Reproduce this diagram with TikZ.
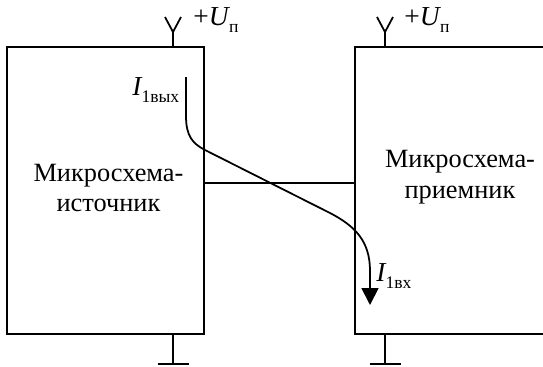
\documentclass[tikz,border=0pt]{standalone}
\usepackage{fontspec}
\setmainfont{Liberation Serif}
\usetikzlibrary{arrows.meta}
\newcommand{\indice}[1]{\kern-0.6pt\raisebox{-0.6ex}{\fontsize{10}{10}\selectfont #1}}
\begin{document}
\begin{tikzpicture}
  % Definir estilos
  \tikzset{
    bloque/.style={draw=black, line width=0.035cm, minimum width=#1, minimum height=5.74cm, inner sep=0pt, outer sep=0pt},
    linea/.style={black, line width=0.035cm},
    corriente/.style={black, line width=0.035cm, -{Triangle[length=0.34cm,width=0.34cm]}},
    titulo/.style={font=\fontsize{15}{17.6}\selectfont, align=center, inner sep=0pt},
    etiqueta/.style={font=\fontsize{15.6}{18}\selectfont, inner sep=0pt, anchor=base west}
  }
  \useasboundingbox (0,0) rectangle (10.86,7.32);

  % Bloques
  \node[bloque=3.94cm] (fuente) at (2.11,3.51) {};
  \node[bloque=3.9cm] (receptor) at (9.05,3.51) {};

  % Textos de los bloques
  \node[titulo] (fuente_txt) at (2.17,3.56) {Микросхема-\\источник};
  \node[titulo] (receptor_txt) at (9.2,3.78) {Микросхема-\\приемник};

  % Linea de union
  \draw[linea] ([yshift=0.15cm]fuente.east) -- ([yshift=0.15cm]receptor.west);

  % Alimentacion y tierra
  \foreach \xx in {3.46,7.70} {
    \draw[linea] (\xx,6.38) -- (\xx,6.68);
    \draw[linea] (\xx-0.16,6.98) -- (\xx,6.68) -- (\xx+0.16,6.98);
    \draw[linea] (\xx,0.64) -- (\xx,0.04);
    \draw[linea] (\xx-0.31,0.04) -- (\xx+0.31,0.04);
  }

  % Corriente
  \coordinate (ini) at (3.72,5.78);
  \coordinate (fin) at (7.4,1.22);
  \draw[corriente] (ini) -- (3.72,5.0) .. controls (3.72,4.6) and (3.85,4.45) .. (4.1,4.32) -- (6.6,3.06) .. controls (7.1,2.8) and (7.4,2.5) .. (7.4,1.9) -- (fin);

  % Etiquetas
  \node[etiqueta] (tension_a) at (3.86,6.82) {+\textit{U}\indice{п}};
  \node[etiqueta] (tension_b) at (8.08,6.82) {+\textit{U}\indice{п}};
  \node[etiqueta] (salida) at (2.64,5.42) {\textit{I}\indice{1вых}};
  \node[etiqueta] (entrada) at (7.52,1.7) {\textit{I}\indice{1вх}};
\end{tikzpicture}
\end{document}
